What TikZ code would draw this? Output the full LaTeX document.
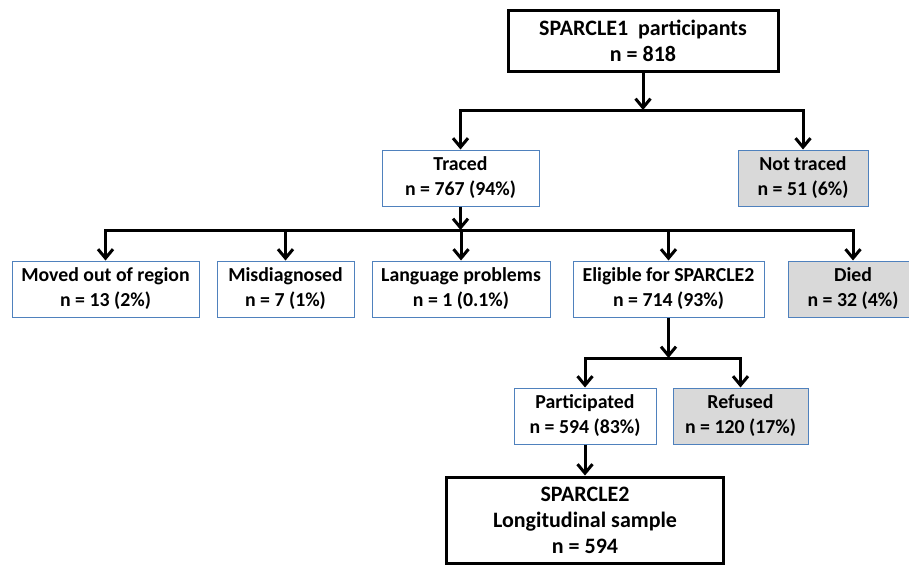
\documentclass[tikz,border=0pt]{standalone}
\usepackage{fontspec}
\setmainfont{Carlito}
\usetikzlibrary{arrows.meta}
\definecolor{boxblue}{HTML}{4F81BD}
\definecolor{boxgrey}{HTML}{D9D9D9}

\begin{document}
\begin{tikzpicture}[
		x=1pt, y=-1pt,
		every node/.style={rectangle, align=center, inner sep=0pt, font=\fontsize{19.8}{25}\selectfont\bfseries},
		stage/.style={draw=boxblue, line width=1pt, fill=white, minimum height=56pt},
		lost/.style={stage, fill=boxgrey},
		cohort/.style={draw=black, line width=3pt, fill=white, font=\fontsize{22}{26}\selectfont\bfseries},
		flow/.style={line width=3pt, -{Straight Barb[length=9pt, width=15pt]}}
	]
  \useasboundingbox (0, 0) rectangle (909, 566);
  \node (sparcle1) [cohort, minimum width=270pt, minimum height=61pt] at (643, 40.5) {SPARCLE1~~participants\\n = 818};
  \node (traced) [stage, minimum width=157pt] at (460.5, 178) {Traced\\n = 767 (94\%)};
  \node (nottraced) [lost, minimum width=130pt] at (803, 178) {Not traced\\n = 51 (6\%)};
  \node (moved) [stage, minimum width=187pt] at (105.5, 289) {Moved out of region\\n = 13 (2\%)};
  \node (misdiag) [stage, minimum width=137pt] at (285.5, 289) {Misdiagnosed\\n = 7 (1\%)};
  \node (language) [stage, minimum width=178pt] at (461, 289) {Language problems\\n = 1 (0.1\%)};
  \node (eligible) [stage, minimum width=191pt] at (668.5, 289) {Eligible for SPARCLE2\\n = 714 (93\%)};
  \node (died) [lost, minimum width=130pt] at (853, 289) {Died\\n = 32 (4\%)};
  \node (partic) [stage, minimum width=142pt] at (585, 416) {Participated\\n = 594 (83\%)};
  \node (refused) [lost, minimum width=135pt] at (740.5, 416) {Refused\\n = 120 (17\%)};
  \node (sparcle2) [cohort, minimum width=277pt, minimum height=86pt] at (585, 520) {SPARCLE2\\Longitudinal sample\\n = 594};
  % branch points
  \coordinate (split1) at (643, 110);
  \coordinate (split2) at (460.5, 230);
  \coordinate (split3) at (668.5, 358);
  \draw[flow] (sparcle1.south) -- (split1);
  \draw[flow] (split1) -| (traced.north);
  \draw[flow] (split1) -| (nottraced.north);
  \draw[flow] (traced.south) -- (split2);
  \foreach \n in {moved, misdiag, language, eligible, died}
    \draw[flow] (split2) -| (\n.north);
  \draw[flow] (eligible.south) -- (split3);
  \draw[flow] (split3) -| (partic.north);
  \draw[flow] (split3) -| (refused.north);
  \draw[flow] (partic.south) -- (sparcle2.north);
\end{tikzpicture}
\end{document}
